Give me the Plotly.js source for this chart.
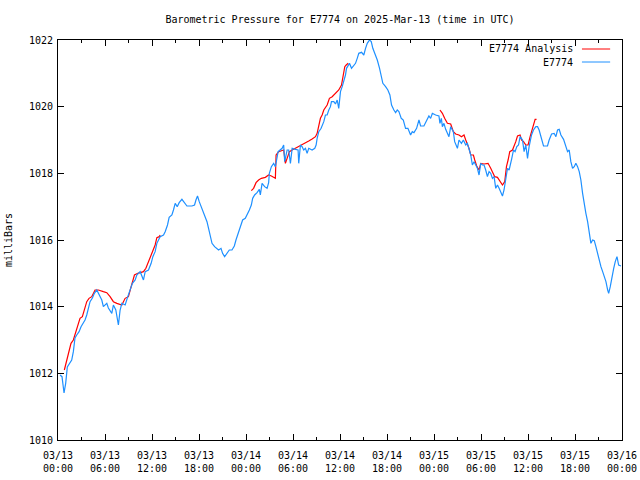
<!DOCTYPE html>
<html>
<head>
<meta charset="utf-8">
<script src="https://cdn.plot.ly/plotly-3.0.1.min.js"></script>
<style>html,body{margin:0;padding:0;background:#fff;}#chart{width:640px;height:480px;}</style>
</head>
<body>
<div id="chart"></div>
<script>
// Hours after 2025-03-13 00:00 UTC, and pressure in millibars
const stationHours = [0.26,0.51,0.77,0.98,1.19,1.53,1.75,1.96,2.17,2.39,2.69,2.94,3.24,3.45,3.67,3.87,4.09,4.39,4.64,4.95,5.15,5.59,5.79,6.23,6.43,6.87,7.07,7.38,7.71,7.93,8.15,8.57,8.91,9.21,9.50,9.85,10.06,10.49,10.91,11.13,11.55,11.89,12.11,12.40,12.62,13.04,13.47,13.68,13.98,14.19,14.54,14.74,14.96,15.22,15.47,15.82,16.02,16.46,17.10,17.43,17.61,17.81,18.03,18.38,18.71,19.02,19.22,19.44,19.66,19.99,20.29,20.50,20.81,21.01,21.27,21.57,21.87,22.21,22.51,22.72,22.98,23.27,23.57,23.91,24.13,24.43,24.68,24.85,25.10,25.41,25.70,25.83,26.05,26.38,26.69,26.89,26.98,27.24,27.53,27.75,28.10,28.39,28.61,28.81,28.94,29.25,29.45,29.67,29.89,30.31,30.65,30.73,30.95,31.16,31.37,31.59,31.80,32.01,32.44,32.78,32.95,33.08,33.29,33.59,33.93,34.14,34.36,34.57,34.78,34.91,35.21,35.42,35.64,35.84,36.06,36.28,36.48,36.70,36.83,37.05,37.21,37.47,37.76,37.98,38.20,38.40,38.75,39.04,39.26,39.48,39.77,39.99,40.19,40.45,40.76,41.05,41.31,41.47,41.82,42.11,42.37,42.58,42.88,43.10,43.31,43.52,43.82,44.08,44.37,44.67,45.01,45.23,45.44,45.78,46.08,46.29,46.71,47.06,47.35,47.57,47.79,48.21,48.63,48.76,48.94,49.07,49.27,49.49,49.71,49.91,50.13,50.47,50.64,50.99,51.19,51.50,51.75,52.05,52.26,52.47,52.69,52.90,53.11,53.33,53.54,53.75,53.97,54.18,54.39,54.60,54.82,55.03,55.24,55.46,55.67,55.88,56.10,56.31,56.52,56.74,56.94,57.07,57.25,57.38,57.59,57.80,57.93,58.15,58.35,58.57,58.79,58.99,59.30,59.50,59.72,59.94,60.14,60.45,60.70,61.00,61.22,61.42,61.64,61.98,62.49,62.70,63.01,63.34,63.56,63.77,63.98,64.20,64.54,64.84,65.05,65.26,65.47,65.69,65.90,66.11,66.33,66.54,66.75,66.97,67.18,67.39,67.61,67.82,68.03,68.25,68.46,68.67,68.89,69.09,69.31,69.53,69.73,69.95,70.17,70.30,70.50,70.72,70.94,71.14,71.36,71.57,71.87];
const stationPressure = [1011.95,1011.9,1011.41,1011.7,1012.19,1012.34,1012.4,1012.65,1013.06,1013.15,1013.25,1013.4,1013.5,1013.6,1013.75,1013.96,1014.15,1014.26,1014.4,1014.5,1014.4,1014.2,1014.0,1014.1,1013.96,1013.8,1014.05,1013.9,1013.45,1013.9,1014.1,1014.05,1014.3,1014.5,1014.7,1014.8,1014.95,1015.05,1014.8,1015.05,1015.1,1015.3,1015.5,1015.65,1015.9,1016.1,1016.15,1016.25,1016.45,1016.68,1016.75,1016.9,1017.1,1017.0,1017.12,1017.22,1017.15,1017.02,1017.02,1017.05,1017.2,1017.32,1017.15,1016.95,1016.75,1016.55,1016.35,1016.1,1015.9,1015.8,1015.75,1015.7,1015.75,1015.6,1015.5,1015.6,1015.7,1015.7,1015.82,1016.0,1016.2,1016.38,1016.6,1016.65,1016.75,1016.9,1017.05,1017.25,1017.35,1017.42,1017.52,1017.35,1017.7,1017.6,1017.55,1017.72,1018.0,1018.2,1018.3,1018.2,1018.65,1018.7,1018.75,1018.85,1018.35,1018.7,1018.7,1018.3,1018.75,1018.72,1018.7,1018.3,1018.85,1018.8,1018.7,1018.75,1018.6,1018.75,1018.7,1018.75,1018.85,1019.05,1019.25,1019.35,1019.55,1019.75,1019.75,1019.9,1020.0,1020.15,1020.15,1020.08,1020.2,1019.95,1020.45,1020.6,1020.75,1020.95,1021.15,1021.25,1021.3,1021.15,1021.25,1021.3,1021.45,1021.6,1021.63,1021.55,1021.75,1021.9,1022.0,1021.95,1021.75,1021.6,1021.4,1021.15,1020.9,1020.7,1020.6,1020.5,1020.35,1020.05,1019.9,1019.82,1019.9,1019.85,1019.65,1019.6,1019.35,1019.35,1019.15,1019.25,1019.22,1019.35,1019.6,1019.42,1019.42,1019.6,1019.72,1019.65,1019.8,1019.75,1019.72,1019.5,1019.65,1019.4,1019.5,1019.32,1019.2,1019.1,1019.4,1019.25,1018.95,1018.75,1019.0,1018.9,1019.0,1018.85,1018.9,1018.7,1018.55,1018.25,1018.35,1018.25,1018.15,1017.95,1018.3,1018.25,1018.25,1018.1,1017.9,1018.05,1018.0,1017.85,1017.9,1017.55,1017.65,1017.55,1017.45,1017.32,1017.5,1017.7,1018.05,1018.15,1018.1,1018.4,1018.45,1018.7,1018.65,1018.8,1018.85,1019.1,1019.0,1018.65,1018.85,1018.45,1018.8,1019.15,1019.3,1019.4,1019.4,1019.3,1019.1,1018.82,1018.82,1019.0,1019.18,1019.2,1019.1,1019.3,1019.32,1019.15,1019.02,1018.82,1018.65,1018.7,1018.35,1018.15,1018.2,1018.3,1018.2,1018.05,1017.8,1017.4,1017.05,1016.8,1016.55,1016.2,1015.9,1016.0,1015.98,1015.8,1015.6,1015.35,1015.2,1015.05,1014.9,1014.75,1014.5,1014.4,1014.6,1014.95,1015.15,1015.35,1015.5,1015.25,1015.22];

// Analysis series (null marks gaps between analysis segments)
const analysisHours = [0.81,1.02,1.41,1.66,1.96,2.26,2.52,2.81,3.11,3.36,3.67,3.96,4.31,4.73,5.15,5.79,6.23,6.65,7.07,7.51,8.15,8.57,8.99,9.34,9.76,10.19,10.91,11.22,11.55,11.89,12.19,12.40,12.62,12.92,13.04,
  13.5,
  24.68,24.97,25.28,25.61,25.96,26.47,26.89,27.24,27.75,27.84,28.17,28.61,28.81,29.03,29.25,29.54,29.89,30.31,30.73,31.16,31.59,32.01,32.44,32.87,33.08,33.29,33.50,33.72,33.93,34.36,34.65,35.00,35.42,35.84,36.19,36.41,36.61,36.79,37.05,
  37.5,
  48.76,49.07,49.36,49.71,50.13,50.47,50.77,51.19,51.50,51.83,52.05,52.26,52.47,52.69,53.03,53.20,53.45,53.75,53.97,54.39,54.73,54.90,55.24,55.46,55.75,56.10,56.43,56.74,57.03,57.25,57.46,57.67,58.02,58.22,58.44,58.66,58.99,59.17,59.43,59.72,60.01,60.27,60.49,60.70,60.91,61.09];
const analysisPressure = [1012.1,1012.3,1012.6,1012.9,1013.0,1013.25,1013.45,1013.65,1013.7,1013.9,1014.15,1014.25,1014.3,1014.5,1014.5,1014.45,1014.42,1014.3,1014.15,1014.1,1014.05,1014.25,1014.3,1014.6,1014.95,1015.0,1015.05,1015.15,1015.35,1015.5,1015.7,1015.85,1016.07,1016.1,1016.15,
  null,
  1017.48,1017.55,1017.72,1017.8,1017.85,1017.88,1017.95,1017.92,1017.85,1018.55,1018.65,1018.7,1018.7,1018.3,1018.45,1018.65,1018.7,1018.75,1018.8,1018.85,1018.9,1018.97,1019.03,1019.1,1019.2,1019.45,1019.65,1019.75,1019.9,1020.05,1020.25,1020.3,1020.4,1020.5,1020.65,1020.9,1021.2,1021.25,1021.3,
  null,
  1019.9,1019.8,1019.65,1019.5,1019.48,1019.25,1019.18,1019.15,1019.1,1019.15,1019.0,1018.9,1018.75,1018.55,1018.55,1018.4,1018.22,1018.1,1018.3,1018.28,1018.28,1018.3,1018.15,1018.05,1017.9,1017.88,1017.75,1017.65,1017.75,1018.2,1018.4,1018.65,1018.7,1018.8,1018.95,1019.12,1019.15,1019.0,1018.95,1018.85,1018.85,1019.1,1019.3,1019.5,1019.62,1019.62];

const tickHours = [0,6,12,18,24,30,36,42,48,54,60,66,72];
const tickLabels = ['03/13<br>00:00','03/13<br>06:00','03/13<br>12:00','03/13<br>18:00','03/14<br>00:00','03/14<br>06:00','03/14<br>12:00','03/14<br>18:00','03/15<br>00:00','03/15<br>06:00','03/15<br>12:00','03/15<br>18:00','03/16<br>00:00'];
const seriesNames = ['E7774 Analysis','E7774'];
const seriesColors = ['#ff0000','#1e90ff'];

const T0 = Date.UTC(2025, 2, 13, 0, 0, 0);
const toMs = h => T0 + h * 3600000;

const FONT = 'DejaVu Sans Mono, Liberation Mono, monospace';

const traces = [
  {x: analysisHours.map(toMs), y: analysisPressure, type: 'scatter', mode: 'lines',
   name: seriesNames[0], line: {color: seriesColors[0], width: 1.2}, connectgaps: false},
  {x: stationHours.map(toMs), y: stationPressure, type: 'scatter', mode: 'lines',
   name: seriesNames[1], line: {color: seriesColors[1], width: 1.2}}
];

const layout = {
  width: 640, height: 480,
  margin: {l: 58, r: 18, t: 40, b: 40},
  paper_bgcolor: '#fff', plot_bgcolor: '#fff',
  showlegend: false,
  font: {family: FONT, size: 10, color: '#000'},
  title: {text: 'Barometric Pressure for E7774 on 2025-Mar-13 (time in UTC)',
          font: {family: FONT, size: 10, color: '#000'},
          x: 0.5, xref: 'paper', xanchor: 'center', y: 0.96, yref: 'container', yanchor: 'middle'},
  xaxis: {
    type: 'date', range: [toMs(0), toMs(72)],
    tickmode: 'array', tickvals: tickHours.map(toMs), ticktext: tickLabels,
    ticks: 'inside', ticklen: 6, tickcolor: '#000', tickwidth: 1,
    minor: {ticks: 'inside', ticklen: 3, dtick: 3 * 3600000, tick0: toMs(0), tickcolor: '#000', showgrid: false},
    showline: true, linecolor: '#000', linewidth: 1, mirror: 'allticks',
    showgrid: false, zeroline: false, ticklabelstandoff: 6,
    tickfont: {family: FONT, size: 10, color: '#000'}, tickangle: 0
  },
  yaxis: {
    range: [1010, 1022], dtick: 2, tick0: 1010,
    ticks: 'inside', ticklen: 6, tickcolor: '#000', tickwidth: 1,
    showline: true, linecolor: '#000', linewidth: 1, mirror: 'allticks',
    showgrid: false, zeroline: false, ticklabelstandoff: 2,
    tickfont: {family: FONT, size: 10, color: '#000'},
    title: {text: 'milliBars', font: {family: FONT, size: 10, color: '#000'}, standoff: 14}
  },
  annotations: [
    {text: seriesNames[0], xref: 'paper', yref: 'paper', x: 0.917, y: 0.9775, xanchor: 'right', yanchor: 'middle', showarrow: false, font: {family: FONT, size: 10, color: '#000'}},
    {text: seriesNames[1], xref: 'paper', yref: 'paper', x: 0.917, y: 0.945, xanchor: 'right', yanchor: 'middle', showarrow: false, font: {family: FONT, size: 10, color: '#000'}}
  ],
  shapes: [
    {type: 'line', xref: 'paper', yref: 'paper', x0: 0.929, x1: 0.979, y0: 0.9775, y1: 0.9775, line: {color: seriesColors[0], width: 1}},
    {type: 'line', xref: 'paper', yref: 'paper', x0: 0.929, x1: 0.979, y0: 0.945, y1: 0.945, line: {color: seriesColors[1], width: 1}}
  ]
};

Plotly.newPlot('chart', traces, layout, {staticPlot: true, displayModeBar: false});
</script>
</body>
</html>
